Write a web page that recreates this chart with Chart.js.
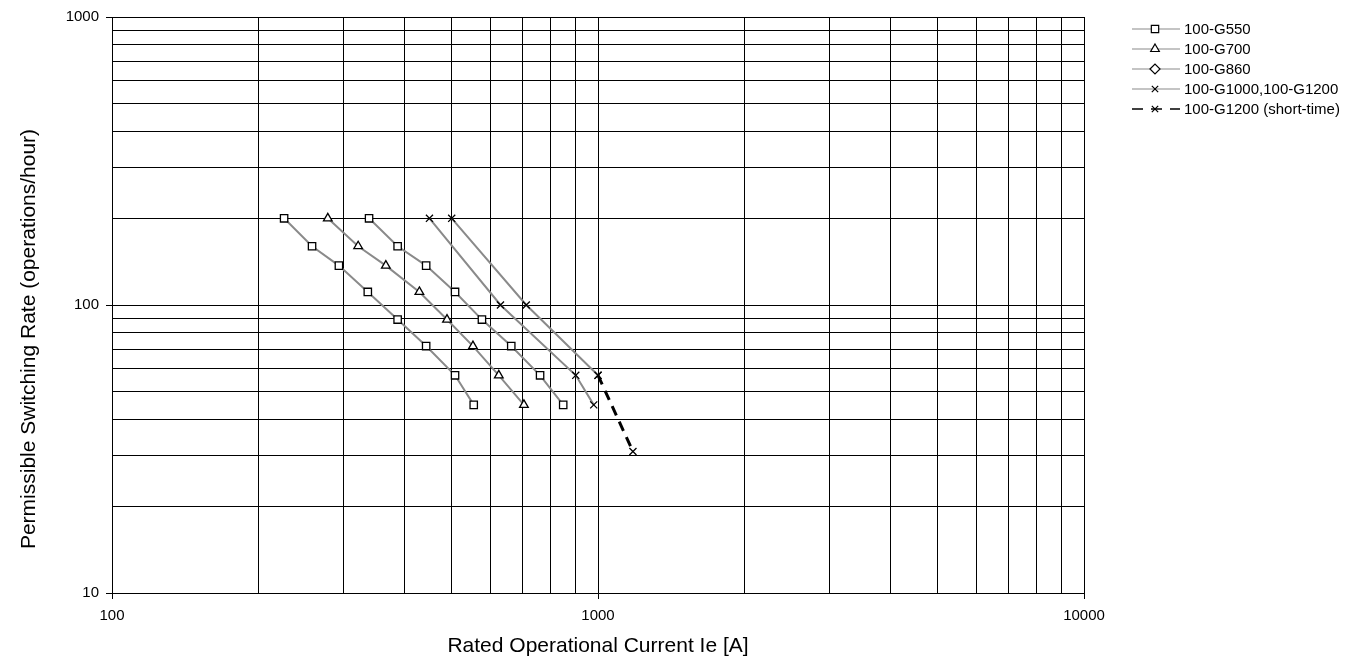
<!DOCTYPE html>
<html>
<head>
<meta charset="utf-8">
<style>
    html, body { margin: 0; padding: 0; background: #fff; }
    #chart { display: block; }
</style>
<script src="https://cdn.jsdelivr.net/npm/chart.js@4/dist/chart.umd.min.js"></script>
</head>
<body>
<canvas id="chart" width="1367" height="661"></canvas>
<script>
// switching rate steps (operations/hour), shared by the contactor curves
const rates = [200, 160, 137, 111, 89, 72, 57, 45];

// rated operational current Ie [A] at each rate step
const g550Current = [226, 258, 293, 336, 387, 443, 508, 555];
const g700Current = [278, 321, 366, 429, 489, 553, 625, 704];
const g860Current = [338, 387, 443, 508, 577, 663, 760, 848];

// 100-G1000 and 100-G1200 share one legend entry
const g1000Current = [450, 630, 900, 980];
const g1000Rate = [200, 100, 57, 45];
const g1200Current = [500, 712, 1000];
const g1200Rate = [200, 100, 57];

// short-time extension of 100-G1200
const shortTimeCurrent = [1000, 1180];
const shortTimeRate = [57, 31];

// grid lines and labelled ticks
const xGridValues = [100, 200, 300, 400, 500, 600, 700, 800, 900,
    1000, 2000, 3000, 4000, 5000, 6000, 7000, 8000, 9000, 10000];
const yGridValues = [10, 20, 30, 40, 50, 60, 70, 80, 90,
    100, 200, 300, 400, 500, 600, 700, 800, 900, 1000];
const xTickLabels = [100, 1000, 10000];
const yTickLabels = [10, 100, 1000];

const legendNames = [`100-G550`, `100-G700`, `100-G860`, `100-G1000,100-G1200`, `100-G1200 (short-time)`];
const yTitle = `Permissible Switching Rate (operations/hour)`;
const xTitle = `Rated Operational Current Ie [A]`;

const fontFamily = `"Liberation Sans", Arial, sans-serif`;


const toPoints = function (xs, ys) {
    return xs.map((x, i) => ({ x, y: ys[i] }));
};

const curve = function (data, pointStyle, radius) {
    return {
        data,
        showLine: true,
        borderColor: `#8a8a8a`,
        borderWidth: 2,
        pointStyle,
        pointRadius: radius,
        pointBorderColor: `#000`,
        pointBackgroundColor: `#fff`,
        pointBorderWidth: 1.3,
    };
};

const datasets = [
    curve(toPoints(g550Current, rates), `rect`, 5.2),
    curve(toPoints(g700Current, rates), `triangle`, 5),
    // plotted with squares in the original, diamond only in the legend
    curve(toPoints(g860Current, rates), `rect`, 5.2),
    curve(toPoints(g1000Current, g1000Rate), `crossRot`, 5),
    curve(toPoints(g1200Current, g1200Rate), `crossRot`, 5),
    {
        data: toPoints(shortTimeCurrent, shortTimeRate),
        showLine: true,
        borderColor: `#000`,
        borderWidth: 3,
        borderDash: [10, 7],
        pointStyle: `crossRot`,
        pointRadius: 5,
        pointBorderColor: `#000`,
        pointBorderWidth: 1.3,
    },
];

// legend on the right: short line, marker in the middle, name
const legendMarks = [
    { pointStyle: `rect`, radius: 5.2, dashed: false },
    { pointStyle: `triangle`, radius: 5, dashed: false },
    { pointStyle: `rectRot`, radius: 5, dashed: false },
    { pointStyle: `crossRot`, radius: 4.5, dashed: false },
    { pointStyle: `crossRot`, radius: 4.5, dashed: true },
];

const sideLegend = {
    id: `sideLegend`,
    afterDraw(chart) {
        const ctx = chart.ctx;
        const left = 1132;
        const right = 1180;
        const middle = 1155;
        ctx.save();
        legendNames.forEach((name, i) => {
            const y = 29 + i * 20;
            const mark = legendMarks[i];
            ctx.beginPath();
            if (mark.dashed) {
                ctx.strokeStyle = `#000`;
                ctx.lineWidth = 1.5;
                ctx.setLineDash([11, 8]);
            } else {
                ctx.strokeStyle = `#8a8a8a`;
                ctx.lineWidth = 1.2;
                ctx.setLineDash([]);
            }
            ctx.moveTo(left, y);
            ctx.lineTo(right, y);
            ctx.stroke();
            ctx.setLineDash([]);
            ctx.strokeStyle = `#000`;
            ctx.fillStyle = `#fff`;
            ctx.lineWidth = 1.2;
            Chart.helpers.drawPoint(ctx, {
                pointStyle: mark.pointStyle,
                radius: mark.radius,
                rotation: 0,
                borderWidth: 1.2,
            }, middle, y);
            ctx.fillStyle = `#000`;
            ctx.font = `15px ${fontFamily}`;
            ctx.textAlign = `left`;
            ctx.textBaseline = `middle`;
            ctx.fillText(name, 1184, y + 1);
        });
        ctx.restore();
    },
};

// the y title sits a little below the middle of the plot in the original
const sideTitle = {
    id: `sideTitle`,
    afterDraw(chart) {
        const ctx = chart.ctx;
        ctx.save();
        ctx.translate(29, 339);
        ctx.rotate(-Math.PI / 2);
        ctx.fillStyle = `#000`;
        ctx.font = `21px ${fontFamily}`;
        ctx.textAlign = `center`;
        ctx.textBaseline = `middle`;
        ctx.fillText(yTitle, 0, 0);
        ctx.restore();
    },
};

const labelOnly = function (labels) {
    return function (value) {
        return labels.includes(value) ? String(value) : ``;
    };
};

const majorTick = function (labels) {
    return function (context) {
        return context.tick && labels.includes(context.tick.value) ? `#000` : `rgba(0,0,0,0)`;
    };
};

Chart.defaults.font.family = fontFamily;
Chart.defaults.color = `#000`;

const chart = new Chart(document.getElementById(`chart`), {
    type: `scatter`,
    data: { datasets },
    plugins: [sideLegend, sideTitle],
    options: {
        responsive: false,
        animation: false,
        events: [],
        devicePixelRatio: 1,
        layout: {
            padding: { top: 17, right: 283, bottom: 0, left: 0 },
        },
        elements: {
            line: { tension: 0 },
        },
        plugins: {
            legend: { display: false },
            tooltip: { enabled: false },
        },
        scales: {
            x: {
                type: `logarithmic`,
                min: 100,
                max: 10000,
                afterBuildTicks: (scale) => {
                    scale.ticks = xGridValues.map(value => ({ value }));
                },
                afterFit: (scale) => {
                    scale.height = 68;
                },
                ticks: {
                    autoSkip: false,
                    maxRotation: 0,
                    padding: 8,
                    font: { size: 15 },
                    callback: labelOnly(xTickLabels),
                },
                grid: {
                    color: `#000`,
                    lineWidth: 1,
                    tickLength: 6,
                    tickColor: majorTick(xTickLabels),
                },
                border: { color: `#000`, width: 1 },
                title: {
                    display: true,
                    text: xTitle,
                    font: { size: 21 },
                    padding: { top: 0, bottom: 2 },
                },
            },
            y: {
                type: `logarithmic`,
                min: 10,
                max: 1000,
                afterBuildTicks: (scale) => {
                    scale.ticks = yGridValues.map(value => ({ value }));
                },
                afterFit: (scale) => {
                    scale.width = 112;
                },
                ticks: {
                    autoSkip: false,
                    padding: 7,
                    font: { size: 15 },
                    callback: labelOnly(yTickLabels),
                },
                grid: {
                    color: `#000`,
                    lineWidth: 1,
                    tickLength: 6,
                    tickColor: majorTick(yTickLabels),
                },
                border: { color: `#000`, width: 1 },
            },
        },
    },
});
</script>
</body>
</html>
